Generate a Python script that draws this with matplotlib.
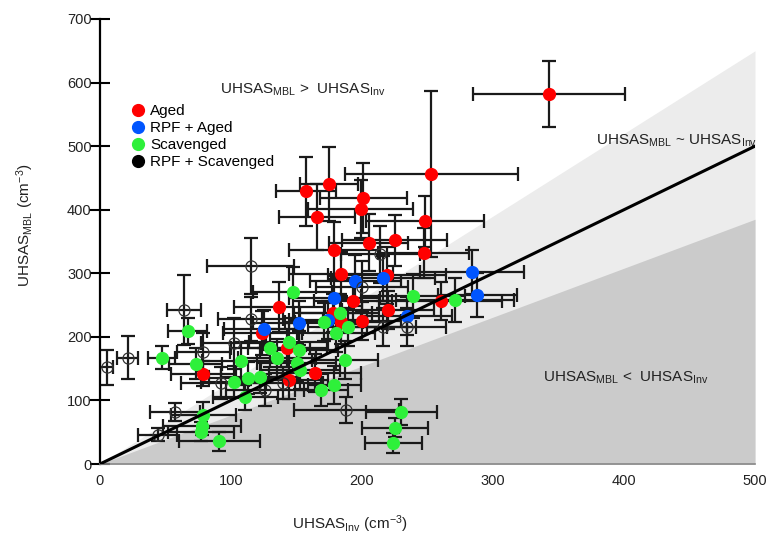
import matplotlib
matplotlib.use("Agg")
import matplotlib.pyplot as plt
from matplotlib.lines import Line2D
import numpy as np

plt.rcParams['font.family'] = ['Liberation Sans', 'DejaVu Sans']
plt.rcParams['mathtext.fontset'] = 'custom'
plt.rcParams['mathtext.rm'] = 'Liberation Sans'
plt.rcParams['mathtext.it'] = 'Liberation Sans'

# Aged
aged_x = [343, 253, 157, 175, 166, 201, 199, 248, 205, 225, 179, 247, 184, 219,
          137, 193, 178, 184, 200, 124, 143, 164, 144, 220, 79, 260]
aged_y = [582, 456, 429, 440, 389, 418, 401, 382, 348, 352, 336, 332, 299, 297,
          247, 256, 238, 224, 225, 206, 182, 143, 132, 242, 142, 256]
aged_xerr = [58, 66, 23, 22, 29, 33, 40, 45, 30, 40, 35, 35, 40, 45,
             35, 30, 30, 35, 30, 30, 30, 35, 30, 35, 25, 47]
aged_yerr = [52, 130, 54, 58, 52, 55, 45, 40, 45, 40, 45, 40, 35, 45,
             40, 35, 30, 35, 30, 35, 30, 30, 30, 30, 20, 30]

# RPF + Aged
rpf_aged_x = [284, 288, 195, 216, 179, 234, 152, 125, 174]
rpf_aged_y = [302, 266, 288, 292, 261, 233, 222, 212, 226]
rpf_aged_xerr = [40, 30, 35, 40, 35, 35, 35, 30, 30]
rpf_aged_yerr = [35, 35, 40, 35, 35, 30, 35, 30, 30]

# Scavenged
scav_x = [147, 67, 47, 73, 183, 171, 180, 144, 130, 152, 135, 108, 150, 153, 122, 113,
          102, 111, 169, 179, 187, 79, 78, 77, 91, 189, 239, 271, 230, 225, 224]
scav_y = [270, 209, 167, 158, 237, 224, 206, 192, 183, 179, 167, 162, 159, 148, 137, 135,
          129, 105, 116, 124, 164, 77, 60, 51, 36, 215, 264, 258, 82, 57, 33]
scav_xerr = [30, 15, 10, 20, 30, 30, 30, 30, 30, 30, 30, 30, 30, 30, 30, 30,
             25, 25, 20, 20, 25, 25, 30, 25, 31, 30, 40, 45, 27, 25, 22]
scav_yerr = [40, 20, 18, 25, 30, 30, 30, 30, 30, 30, 30, 30, 30, 30, 25, 25,
             25, 20, 25, 30, 30, 20, 15, 15, 15, 30, 35, 35, 20, 15, 15]

# RPF + Scavenged
rpf_scav_x = [115, 64, 115, 5, 21, 79, 102, 57, 44, 92, 188, 126, 140, 214, 200, 234, 216]
rpf_scav_y = [311, 242, 228, 152, 167, 176, 190, 82, 46, 127, 85, 116, 127, 330, 279, 215, 215]
rpf_scav_xerr = [33, 13, 25, 5, 8, 20, 25, 19, 15, 30, 40, 30, 30, 30, 35, 30, 25]
rpf_scav_yerr = [44, 55, 35, 28, 34, 30, 40, 14, 10, 25, 21, 25, 25, 45, 40, 30, 30]

groups = [
    ("Aged", aged_x, aged_y, aged_xerr, aged_yerr, "#ff0000"),
    ("RPF + Aged", rpf_aged_x, rpf_aged_y, rpf_aged_xerr, rpf_aged_yerr, "#0055ff"),
    ("Scavenged", scav_x, scav_y, scav_xerr, scav_yerr, "#2ef03a"),
    ("RPF + Scavenged", rpf_scav_x, rpf_scav_y, rpf_scav_xerr, rpf_scav_yerr, "black"),
]

fig = plt.figure(figsize=(7.67, 5.34), dpi=100)
ax = fig.add_axes([100 / 767, 70 / 534, 655 / 767, 445 / 534])

# shaded regions around the 1:1 line
xx = np.array([0, 500])
ax.fill_between(xx, 0, 1.3 * xx, color="#ececec", lw=0, zorder=0)
ax.fill_between(xx, 0, 0.77 * xx, color="#cbcbcb", lw=0, zorder=0)
ax.plot(xx, xx, color="black", lw=2.2, zorder=4)

# error bars first, then markers on top
for name, x, y, xe, ye, c in groups:
    ax.errorbar(x, y, xerr=xe, yerr=ye, fmt="none", ecolor="#1a1a1a",
                elinewidth=1.6, capsize=5, capthick=1.6, zorder=2)

for name, x, y, xe, ye, c in groups:
    if name == "RPF + Scavenged":
        ax.plot(x, y, "o", mfc="none", mec="#333333", mew=0.9, ms=8, ls="none", zorder=3)
    else:
        ax.plot(x, y, "o", color=c, mec=c, ms=8.5, ls="none", zorder=3)

handles = [Line2D([], [], marker="o", ls="none", color=g[5], mec=g[5], ms=8.5) for g in groups]
ax.legend(handles, [g[0] for g in groups], loc="upper left", bbox_to_anchor=(0.035, 0.822),
          frameon=False, fontsize=11, handletextpad=0.2, labelspacing=0.2,
          borderaxespad=0, handlelength=1.2)

ax.text(155, 588, r"UHSAS$_{\mathrm{MBL}}$ >  UHSAS$_{\mathrm{Inv}}$", fontsize=11,
        ha="center", va="center", color="#222222")
ax.text(379, 509, r"UHSAS$_{\mathrm{MBL}}$ ~ UHSAS$_{\mathrm{Inv}}$", fontsize=11,
        ha="left", va="center", color="#222222", clip_on=False)
ax.text(338, 135, r"UHSAS$_{\mathrm{MBL}}$ <  UHSAS$_{\mathrm{Inv}}$", fontsize=11,
        ha="left", va="center", color="#222222")

ax.set_xlim(0, 500)
ax.set_ylim(0, 700)
ax.set_xticks([0, 100, 200, 300, 400, 500])
ax.set_yticks(range(0, 701, 100))
ax.tick_params(axis="x", length=0, pad=7, labelsize=10.5, colors="#222222")
ax.tick_params(axis="y", direction="inout", length=14, width=1.5, pad=-1,
               labelsize=10.5, colors="black", labelcolor="#222222")

for s in ["top", "right"]:
    ax.spines[s].set_visible(False)
ax.spines["left"].set_linewidth(1.6)
ax.spines["bottom"].set_color("#888888")
ax.spines["bottom"].set_linewidth(1.2)

ax.set_xlabel(r"UHSAS$_{\mathrm{Inv}}$ (cm$^{-3}$)", fontsize=11, color="#222222")
ax.xaxis.set_label_coords(0.382, -0.11)
ax.set_ylabel(r"UHSAS$_{\mathrm{MBL}}$ (cm$^{-3}$)", fontsize=11, color="#222222")
ax.yaxis.set_label_coords(-0.098, 0.537)

fig.savefig("out.png", dpi=100)
